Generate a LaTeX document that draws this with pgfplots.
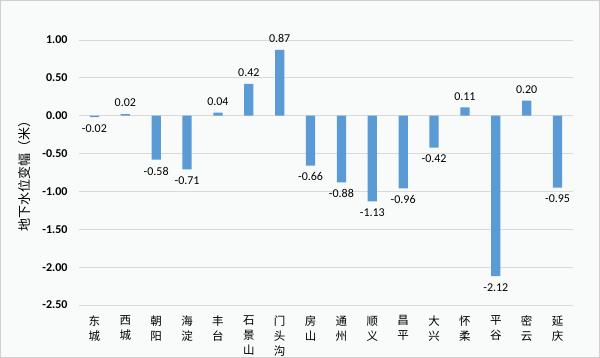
\documentclass[border=0pt]{standalone}
\usepackage{pgfplots}
\pgfplotsset{compat=1.18}
\usepackage{fontspec}
\setmainfont{Carlito}
\newfontfamily\cjk{Noto Sans CJK SC}
\definecolor{barblue}{HTML}{5B9BD5}
\definecolor{gridgray}{HTML}{D9D9D9}
\definecolor{bggray}{HTML}{F9FAFA}
\definecolor{bordergray}{HTML}{D0D0D0}
\begin{document}
\begin{tikzpicture}
\fill[bggray] (0,0) rectangle (600bp,358bp);
\draw[bordergray, line width=1bp] (0.5bp,0.5bp) rectangle (599.5bp,357.5bp);
\begin{axis}[
  at={(79bp,53bp)}, anchor=south west,
  scale only axis, width=494bp, height=265bp,
  xmin=-0.5, xmax=15.5, ymin=-2.5, ymax=1,
  ytick={-2.5,-2,-1.5,-1,-0.5,0,0.5,1},
  xtick={0,...,15},
  xticklabels={{东\\城},{西\\城},{朝\\阳},{海\\淀},{丰\\台},{石\\景\\山},{门\\头\\沟},{房\\山},{通\\州},{顺\\义},{昌\\平},{大\\兴},{怀\\柔},{平\\谷},{密\\云},{延\\庆}},
  xticklabel style={font=\cjk\fontsize{11.5bp}{15bp}\selectfont, align=center, yshift=-3bp},
  yticklabel style={font=\fontsize{12bp}{14bp}\selectfont\bfseries, /pgf/number format/.cd, fixed, fixed zerofill, precision=2, assume math mode=true},
  ymajorgrids, grid style={gridgray, line width=0.8bp},
  axis line style={draw=none}, tick style={draw=none},
  yticklabel shift=8bp,
  ylabel={\cjk 地下水位变幅（米）},
  ylabel style={at={(axis description cs:-0.1093,0.5)}, anchor=center, font=\fontsize{13bp}{15bp}\selectfont},
  ybar, bar width=9.3bp, bar shift=0pt,
  nodes near coords,
  every node near coord/.append style={font=\fontsize{12bp}{14bp}\selectfont, inner ysep=7bp, /pgf/number format/.cd, fixed, fixed zerofill, precision=2, assume math mode=true},
]
\addplot[fill=barblue, draw=none] coordinates {
(0,-0.02) (1,0.02) (2,-0.58) (3,-0.71) (4,0.04) (5,0.42) (6,0.87) (7,-0.66)
(8,-0.88) (9,-1.13) (10,-0.96) (11,-0.42) (12,0.11) (13,-2.12) (14,0.20) (15,-0.95)};
\end{axis}
\pgfresetboundingbox
\useasboundingbox (0,0) rectangle (600bp,358bp);
\end{tikzpicture}
\end{document}
